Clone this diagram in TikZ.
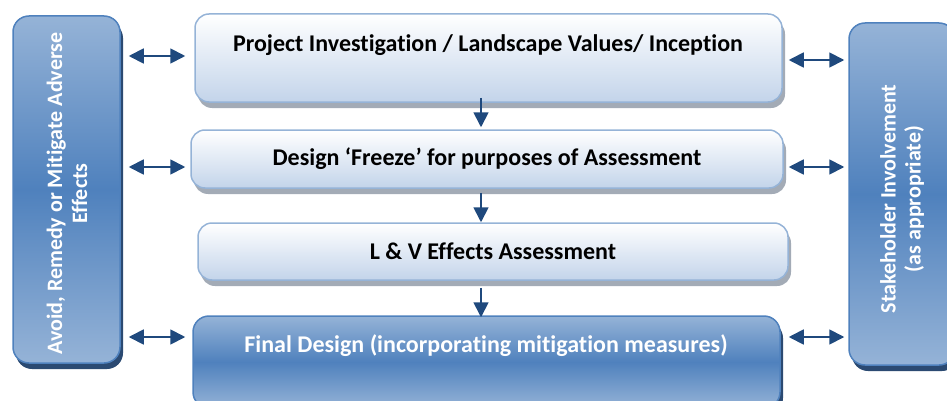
\documentclass[tikz,border=0pt]{standalone}
\usepackage{fontspec}
\setmainfont{Carlito}[Ligatures={NoCommon}]
\usetikzlibrary{calc, positioning}
\usetikzlibrary{arrows.meta}
\usetikzlibrary{shadows}

\definecolor{paleblue}{HTML}{C3D4EA}
\definecolor{edgeblue}{HTML}{95B3D7}
\definecolor{midblue}{HTML}{4F81BD}
\definecolor{navy}{HTML}{1F497D}
\definecolor{greyshadow}{HTML}{A3ABB6}
\definecolor{darkshadow}{HTML}{2B4A72}

\begin{document}
\begin{tikzpicture}[x=1pt,y=1pt,
  lightbox/.style={draw=edgeblue, line width=1.5pt, rounded corners=14pt,
    top color=white, bottom color=paleblue, inner sep=0pt,
    drop shadow={shadow xshift=3pt, shadow yshift=-6pt, fill=greyshadow, opacity=1}},
  darkbox/.style={draw=midblue, line width=1.5pt, rounded corners=16pt,
    top color=edgeblue, bottom color=edgeblue, middle color=midblue, inner sep=0pt,
    drop shadow={shadow xshift=3pt, shadow yshift=-6pt, fill=darkshadow, opacity=1}},
  boxtext/.style={font=\fontsize{24}{28}\selectfont\bfseries, inner sep=0pt},
  sidetext/.style={font=\fontsize{22}{25}\selectfont\bfseries, inner sep=0pt,
    white, rotate=90, align=center},
  flow/.style={navy, line width=1.8pt, -{Triangle[length=15pt,width=15pt]}},
  twoway/.style={navy, line width=1.8pt,
    {Triangle[length=15pt,width=15pt]}-{Triangle[length=15pt,width=15pt]}}
]
\useasboundingbox (0,0) rectangle (947,400);

% side panels
\node[darkbox, minimum width=107pt, minimum height=347pt] (avoid) at (66.5,210.5) {};
\node[sidetext] (avoidtxt) at (67,206.5)
  {Avoid, Remedy or Mitigate Adverse\\Effects};
\node[darkbox, minimum width=106pt, minimum height=342pt] (stake) at (902,206) {};
\node[sidetext] (staketxt) at (902,201)
  {Stakeholder Involvement\\(as appropriate)};

% process steps
\node[lightbox, minimum width=587pt, minimum height=88pt] (inv) at (488.5,342) {};
\node[boxtext] (invtxt) at (488,355) {Project Investigation / Landscape Values/ Inception};
\node[lightbox, boxtext, minimum width=592pt, minimum height=58pt] (frz) at (487,241)
  {Design ‘Freeze’ for purposes of Assessment};
\node[lightbox, boxtext, minimum width=590pt, minimum height=57pt] (lve) at (493,148.5)
  {L \& V Effects Assessment};
\node[darkbox, minimum width=587pt, minimum height=92pt] (fin) at (486.5,38) {};
\node[boxtext, white] (fintxt) at (486,54) {Final Design (incorporating mitigation measures)};

% downward flow
\coordinate (col) at (481,0);
\draw[flow] ($(inv.south -| col)+(0,5)$) -- ($(frz.north -| col)+(0,2)$);
\draw[flow] ($(frz.south -| col)+(0,-4)$) -- (lve.north -| col);
\draw[flow] ($(lve.south -| col)+(0,-7)$) -- ($(fin.north -| col)+(0,-2)$);

% links to the side panels
\coordinate (rowa) at (0,344);
\coordinate (rowb) at (0,340);
\coordinate (rowc) at (0,233);
\coordinate (rowd) at (0,63);
\draw[twoway, shorten <=8pt, shorten >=9pt] (avoid.east |- rowa) -- (inv.west |- rowa);
\draw[twoway, shorten <=8pt, shorten >=5pt] (avoid.east |- rowc) -- (frz.west |- rowc);
\draw[twoway, shorten <=8pt, shorten >=7pt] (avoid.east |- rowd) -- (fin.west |- rowd);
\draw[twoway, shorten <=6pt, shorten >=4pt] (inv.east |- rowb) -- (stake.west |- rowb);
\draw[twoway, shorten <=5pt, shorten >=4pt] (frz.east |- rowc) -- (stake.west |- rowc);
\draw[twoway, shorten <=8pt, shorten >=4pt] (fin.east |- rowd) -- (stake.west |- rowd);
\end{tikzpicture}
\end{document}
